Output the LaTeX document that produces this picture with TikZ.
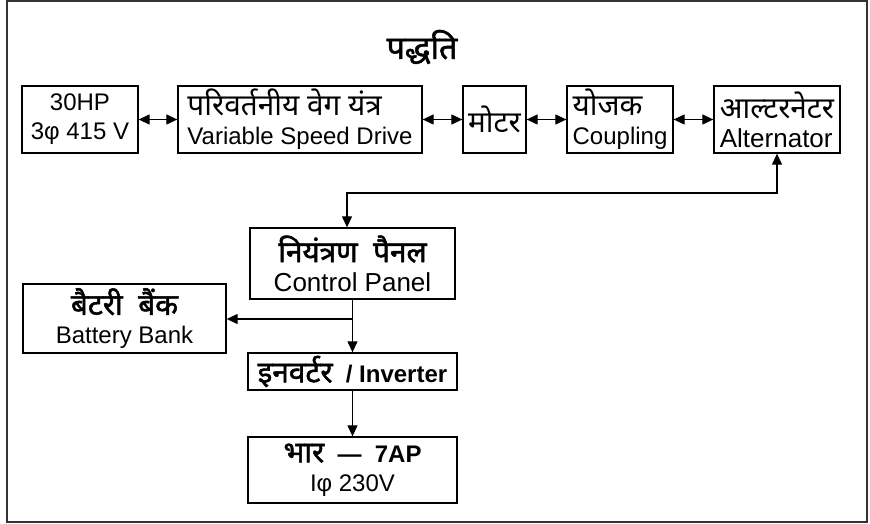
\documentclass[tikz,border=0pt]{standalone}
\usepackage{fontspec}
\setmainfont{Liberation Sans}
\newfontfamily\deva[Script=Devanagari,Scale=1.24]{Noto Sans}
\newfontfamily\devab[Script=Devanagari,Scale=1.24,FakeBold=1.6]{Noto Sans}
\newcommand{\bigtxt}{\fontsize{26}{29}\selectfont}
\usetikzlibrary{arrows.meta}
\tikzstyle{block} = [draw,line width=1.3pt,inner sep=2pt,minimum height=67pt]
\tikzstyle{link} = [line width=1.2pt]

\begin{document}
\begin{tikzpicture}[x=1pt,y=-1pt,>={Triangle[length=11pt,width=10pt]},font=\fontsize{24}{29}\selectfont]
	\useasboundingbox (0,0) rectangle (870,524);
	\draw[line width=2pt,black!80] (7,1) rectangle (867,522);
	\node (title) at (422,47) {\fontsize{26}{30}\selectfont\devab पद्धति};

	\node[block,minimum width=116pt,align=center] at (80,119.5) (supply) {30HP\\3φ 415 V};
	\node[block,minimum width=244pt,align=left] at (300,119.5) (vsd) {{\deva परिवर्तनीय\ वेग\ यंत्र}\\Variable Speed Drive};
	\node[block,minimum width=63pt] at (494.5,119.5) (motor) {\deva मोटर};
	\node[block,minimum width=106pt,align=left] at (620,119.5) (coupling) {{\deva योजक}\\Coupling};
	\node[block,minimum width=126pt,align=left] at (777,119.5) (alt) {{\deva आल्टरनेटर}\\\bigtxt Alternator};

	\node[block,minimum width=205pt,minimum height=71pt,align=center] at (352.5,263.5) (ctrl) {{\devab नियंत्रण\ \ पैनल}\\\bigtxt Control Panel};
	\node[block,minimum width=203pt,minimum height=69pt,align=center] at (124.5,318.5) (battery) {{\devab बैटरी\ \ बैंक}\\Battery Bank};
	\node[block,minimum width=209pt,minimum height=37pt] at (352.5,371.5) (inverter) {{\devab इनवर्टर}\ \ \textbf{/ Inverter}};
	\node[block,minimum width=209pt,minimum height=66pt,align=center] at (352.5,470) (load) {{\devab भार}\ \ \textbf{—\ \ 7AP}\\Iφ 230V};

	\coordinate (fbturn) at (347,193);
	\coordinate (split) at (352.5,319);

	\draw[link,<->] (supply) -- (vsd);
	\draw[link,<->] (vsd) -- (motor);
	\draw[link,<->] (motor) -- (coupling);
	\draw[link,<->] (coupling) -- (alt);
	\draw[link,<->] (alt.south) |- (fbturn) -- (ctrl.north -| fbturn);
	\draw[link,->] (ctrl) -- (inverter);
	\draw[link,->] (split) -- (battery.east |- split);
	\draw[link,->] (inverter) -- (load);
\end{tikzpicture}
\end{document}
